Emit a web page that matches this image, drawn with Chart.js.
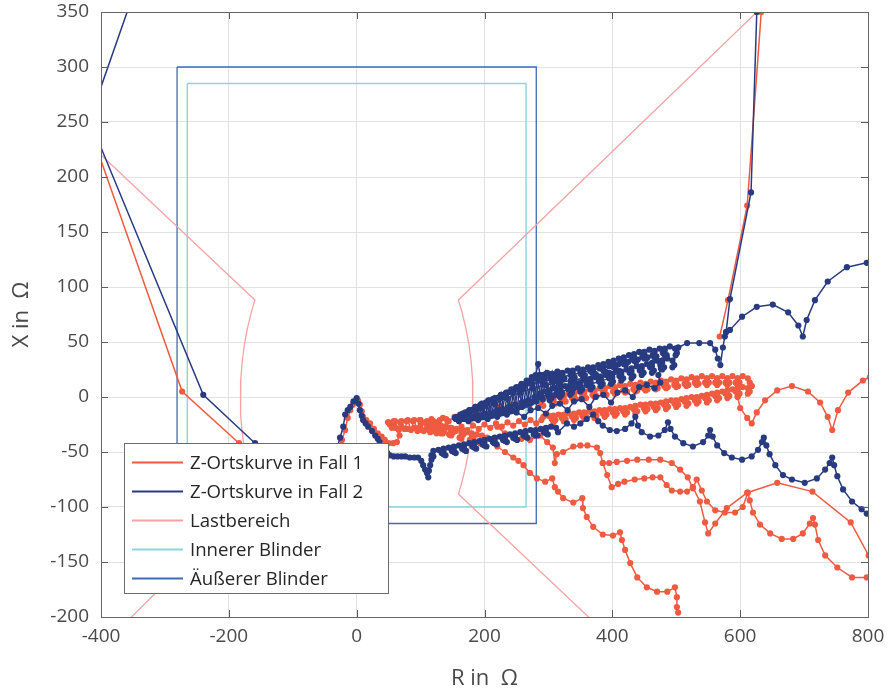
<!DOCTYPE html>
<html>
<head>
<meta charset="utf-8">
<title>Z-Ortskurven</title>
<script src="https://cdn.jsdelivr.net/npm/chart.js@4.4.1/dist/chart.umd.min.js"></script>
<style>
  html, body { margin: 0; padding: 0; background: #fff; }
  canvas { display: block; }
</style>
</head>
<body>
<canvas id="zChart" width="888" height="692"></canvas>
<script>
// axis ticks
const X_TICKS = [-400, -200, 0, 200, 400, 600, 800];
const Y_TICKS = [-200, -150, -100, -50, 0, 50, 100, 150, 200, 250, 300, 350];

// Z-Ortskurve in Fall 2 (blue), [R, X] in Ohm
const FALL2_SWING = [[-317,420],[-418,252],[-240,2],[-159,-42],[-100,-72],[-55,-68],[-35,-55],[-26,-37],[-21,-27],[-18,-16],[-14,-12],[-10,-9],[-5,-4],[0,-1],[3,-6],[5,-12],[8,-17],[10,-21],[14,-24],[18,-27],[24,-31],[29,-35],[33,-38],[36,-41],[40,-45],[44,-48],[48,-51],[52,-53],[58,-54],[64,-54],[70,-54],[76,-54],[83,-55],[90,-55],[96,-55],[101,-58],[104,-62],[107,-66],[110,-69],[112,-73],[113,-67],[115,-62],[117,-57],
  [120,-54],[117,-53],[120,-49],[128,-48],[136,-49],[139,-53],[136,-52],[133,-51],[136,-47],[144,-46],[152,-47],[155,-51],[152,-50],[149,-49],[152,-45],[160,-44],[168,-45],[171,-49],[168,-48],[165,-47],[168,-43],[176,-42],[184,-43],[187,-47],[184,-46],[181,-45],[184,-41],[192,-40],[200,-41],[203,-45],[200,-44],[197,-43],[200,-39],[208,-38],[216,-39],[219,-43],[216,-42],[213,-41],[216,-37],[224,-36],[232,-37],[235,-41],[232,-40],[229,-39],[232,-35],[240,-34],[248,-35],[251,-39],[248,-38],[245,-37],[248,-33],[256,-32],[264,-33],[267,-37],[264,-36],[261,-35],[264,-31],[272,-30],[280,-31],[283,-35],[280,-35],[277,-34],[280,-30],[288,-29],[296,-30],[299,-34],[296,-33],[293,-32],[296,-28],[304,-27],[312,-28],[315,-32],
  [329,-24],[340,-27],[350,-24],[360,-20],[370,-16],[378,-22],[385,-26],[396,-30],[407,-31],[420,-29],[430,-24],[436,-18],[440,-26],[446,-32],[459,-36],[472,-35],[482,-30],[487,-23],[491,-29],[498,-36],[511,-42],[526,-45],[542,-41],[550,-35],[553,-30],[557,-36],[564,-44],[575,-51],[587,-55],[603,-57],[618,-54],[628,-48],[634,-41],[637,-37],[641,-44],[646,-52],[655,-62],[667,-71],[681,-75],[701,-78],[720,-74],[733,-66],[740,-60],[744,-55],[747,-62],[752,-72],[761,-84],[775,-95],[790,-102],[798,-106],[818,-114]];
const FALL2_BAND_OUT = [[154,-19],[162,-16],[170,-14],[178,-12],[186,-9],[194,-7],[202,-5],[210,-3],[218,-1],[226,2],[234,4],[242,7],[250,9],[258,12],[266,15],[274,18],[280,20],[284,30],[287,20],
  [290,14],[287,16],[290,20],[298,22],[306,20],[309,16],[306,15],[303,17],[306,21],[314,23],[322,21],[325,17],[322,16],[319,18],[322,22],[330,24],[338,22],[341,18],[338,18],[335,20],[338,24],[346,26],[354,24],[357,20],[354,19],[351,21],[354,25],[362,27],[370,25],[373,21],[370,21],[367,23],[370,27],[378,29],[386,27],[389,23],[386,24],[383,26],[386,30],[394,32],[402,30],[405,26],[402,27],[399,29],[402,33],[410,35],[418,33],[421,29],[418,30],[415,32],[418,36],[426,38],[434,36],[437,32],[434,33],[431,35],[434,39],[442,41],[450,39],[453,35],[450,35],[447,37],[450,41],[458,43],[466,41],[469,37],[466,36],[463,38],[466,42],[474,44],[482,42],[485,38],[482,38],[479,40],[482,44],[490,46],[498,44],[501,40],
  [503,45],[517,49],[536,49],[553,49],[561,43],[565,35],[569,29],[573,45],[576,55],[578,59],[584,61],[603,73],[626,82],[651,84],[675,77],[691,65],[698,55],[704,70],[717,88],[737,105],[767,118],[798,122],[818,123]];
const FALL2_BAND_BACK = [[503,45],[499,38],
  [494,27],[497,29],[494,33],[486,35],[478,33],[475,29],[478,25],[481,27],[478,31],[470,33],[462,31],[459,27],[462,22],[465,24],[462,28],[454,30],[446,28],[443,24],[446,20],[449,22],[446,26],[438,28],[430,26],[427,22],[430,17],[433,19],[430,23],[422,25],[414,23],[411,19],[414,15],[417,17],[414,21],[406,23],[398,21],[395,17],[398,12],[401,14],[398,18],[390,20],[382,18],[379,14],[382,10],[385,12],[382,16],[374,18],[366,16],[363,12],[366,7],[369,9],[366,13],[358,15],[350,13],[347,9],[350,5],[353,7],[350,11],[342,13],[334,11],[331,7],[334,2],[337,4],[334,8],[326,10],[318,8],[315,4],[318,0],[321,2],[318,6],[310,8],[302,6],[299,2],[302,-3],[305,-1],[302,3],[294,5],[286,3],[283,-1],
  [274,-5],[266,-7],[258,-9],[250,-11],[242,-12],[234,-13],[226,-14],[218,-15],[210,-16],[202,-17],[194,-18],[186,-18],[178,-19],[170,-19],[162,-20],[155,-20]];
const FALL2_LOOP = [[156,-20],[170,-16],[185,-12],[200,-8],[215,-4],[230,0],[245,4],[260,8],[275,12],[290,14],[305,16],[320,18],[335,20],[350,22],[365,24],[380,26],[395,28],[410,30],[425,32],[440,34],[455,36],[468,36],[478,33],[476,26],[472,20],[475,13],[466,8],[454,11],[442,9],[432,0],[420,6],[408,4],[398,-5],[386,2],[374,0],[364,-9],[352,-2],[340,-4],[330,-12],[318,-6],[306,-8],[296,-15],[284,-10],[272,-12],[262,-18],[250,-14],[235,-16],[220,-18],[205,-20],[190,-21],[175,-22],[160,-22]];
const FALL2_WEDGE = [[156,-18],[161,-20],[166,-15],[171,-20],[176,-12],[181,-19],[186,-9],[191,-19],[196,-6],[201,-18],[206,-3],[211,-17],[216,-1],[221,-16],[226,2],[231,-14],[236,4],[241,-12],[246,7],[251,-10],[256,10],[261,-8],[266,13],[271,-6],[276,17],[281,-4],[286,20],[291,-2],[296,21],[301,0],[306,21],[311,2],[316,22],[321,4],
  [318,12],[313,20],[308,8],[303,18],[298,5],[293,17],[288,2],[283,16],[278,0],[273,14],[268,-3],[263,11],[258,-5],[253,8],[248,-7],[243,5],[238,-9],[233,3],[228,-11],[223,0],[218,-13],[213,-2],[208,-15],[203,-5],[198,-16],[193,-8],[188,-17],[183,-11],[178,-18],[173,-14],[168,-19],[163,-17],[158,-19]];
const FALL2_WEDGE_OUTER = [[154,-19],[175,-15],[195,-10],[215,-6],[235,-1],[255,4],[275,8],[295,11],[315,13],[335,15],[355,17],[375,20],[395,22],[410,24],[400,18],[380,14],[360,11],[340,8],[320,5],[300,2],[280,-1],[260,-5],[240,-9],[220,-12],[200,-15],[180,-18],[160,-20]];
const FALL2_STEEP = [[578,59],[584,89],[617,186],[626,350],[630,420]];

// Z-Ortskurve in Fall 1 (red)
const FALL1_APPROACH = [[-420,248],[-273,5],[-184,-42],[-110,-75],[-60,-74],[-35,-62],[-26,-48],[-23,-39],[-18,-30],[-14,-19],[-10,-12],[-6,-7],[-2,-4],[2,-3],[5,-7],[8,-13],[10,-18],[15,-21],[21,-24],[27,-29],[33,-33],[39,-36],[44,-39],[50,-42],[57,-42],[63,-41],[67,-35],[66,-30],[58,-27],[49,-23],[58,-22],[68,-23],[78,-22],[88,-22],[99,-21]];
const FALL1_TIP = [[50,-23],[55,-28],[60,-22],[65,-29],[70,-22],[75,-29],[80,-21],[85,-30],[90,-21],[95,-31],[100,-21],[105,-31],[110,-22],[115,-32],[120,-22],[125,-33],[130,-21],[135,-33],[140,-20],[145,-34]];
const FALL1_BAND_OUT = [[99,-21],[108,-24],[117,-20],[126,-23],[135,-19],[144,-22],[153,-18],[162,-20],[171,-16],[180,-18],[189,-14],[198,-16],[207,-11],[216,-14],[225,-9],[234,-12],[243,-7],[252,-10],[261,-5],[270,-8],[279,-3],[288,-6],
  [292,-8],[289,-6],[292,-2],[300,0],[308,-2],[311,-6],[308,-6],[305,-4],[308,0],[316,2],[324,0],[327,-4],[324,-4],[321,-2],[324,2],[332,4],[340,2],[343,-2],[340,-3],[337,-1],[340,3],[348,5],[356,3],[359,-1],[356,-1],[353,1],[356,5],[364,7],[372,5],[375,1],[372,0],[369,2],[372,6],[380,8],[388,6],[391,2],[388,2],[385,4],[388,8],[396,10],[404,8],[407,4],[404,3],[401,5],[404,9],[412,11],[420,9],[423,5],[420,4],[417,6],[420,10],[428,12],[436,10],[439,6],[436,5],[433,7],[436,11],[444,13],[452,11],[455,7],[452,6],[449,8],[452,12],[460,14],[468,12],[471,8],[468,7],[465,9],[468,13],[476,15],[484,13],[487,9],[484,8],[481,10],[484,14],[492,16],[500,14],[503,10],[500,9],[497,11],[500,15],[508,17],[516,15],[519,11],[516,10],[513,12],[516,16],[524,18],[532,16],[535,12],[532,11],[529,13],[532,17],[540,19],[548,17],[551,13],[548,11],[545,13],[548,17],[556,19],[564,17],[567,13],[564,11],[561,13],[564,17],[572,19],[580,17],[583,13],[580,11],[577,13],[580,17],[588,19],[596,17],[599,13],[596,11],[593,13],[596,17],[604,19],[612,17],[615,13],[618,10]];
const FALL1_BAND_BACK = [[618,10],
  [612,3],[615,5],[612,8],[604,9],[596,8],[593,5],[596,1],[599,3],[596,6],[588,7],[580,6],[577,3],[580,-1],[583,1],[580,4],[572,5],[564,4],[561,1],[564,-3],[567,-1],[564,2],[556,3],[548,2],[545,-1],[548,-5],[551,-3],[548,0],[540,1],[532,0],[529,-3],[532,-6],[535,-4],[532,-1],[524,0],[516,-1],[513,-4],[516,-8],[519,-6],[516,-3],[508,-2],[500,-3],[497,-6],[500,-9],[503,-7],[500,-4],[492,-3],[484,-4],[481,-7],[484,-11],[487,-9],[484,-6],[476,-5],[468,-6],[465,-9],[468,-12],[471,-10],[468,-7],[460,-6],[452,-7],[449,-10],[452,-13],[455,-11],[452,-8],[444,-7],[436,-8],[433,-11],[436,-15],[439,-13],[436,-10],[428,-9],[420,-10],[417,-13],[420,-16],[423,-14],[420,-11],[412,-10],[404,-11],[401,-14],[404,-17],[407,-15],[404,-12],[396,-11],[388,-12],[385,-15],[388,-18],[391,-16],[388,-13],[380,-12],[372,-13],[369,-16],[372,-19],[375,-17],[372,-14],[364,-13],[356,-14],[353,-17],[356,-20],[359,-18],[356,-15],[348,-14],[340,-15],[337,-18],[340,-21],[343,-19],[340,-16],[332,-15],[324,-16],[321,-19],[324,-22],[327,-20],[324,-17],[316,-16],[308,-17],[305,-20],[308,-23],[311,-21],[308,-18],[300,-17],[292,-18],[289,-21],
  [281,-24],[272,-21],[263,-25],[254,-22],[245,-26],[236,-23],[227,-27],[218,-24],[209,-28],[200,-25],[191,-29],[182,-26],[173,-30],[164,-27],[155,-31],[146,-28],[137,-31],[128,-29],[119,-31],[110,-29],[101,-30],[90,-28],[80,-29],[70,-27],[60,-28],[52,-25]];
const FALL1_DROP_A = [[100,-29],[97,-28],[100,-24],[108,-23],[116,-24],[119,-28],[116,-31],[113,-30],[116,-26],[124,-25],[132,-26],[135,-30],[132,-33],[129,-32],[132,-28],[140,-27],[148,-28],[151,-32],[148,-35],[145,-34],[148,-30],[156,-29],[164,-30],[167,-34],[164,-38],[161,-37],[164,-33],[172,-32],[180,-33],[183,-37],[180,-40],[177,-39],[180,-35],[188,-34],[196,-35],[199,-39],[196,-43],[193,-42],[196,-38],[204,-37],[212,-38],[215,-42],
  [220,-45],[232,-50],[245,-55],[253,-58],[261,-62],[271,-69],[282,-74],[295,-77],[306,-74],[310,-82],[315,-86],[323,-92],[339,-96],[353,-92],[354,-101],[360,-109],[370,-118],[385,-125],[401,-126],[412,-123],[415,-130],[420,-139],[428,-151],[439,-164],[454,-173],[470,-177],[486,-177],[498,-173],[501,-182],[501,-191],[503,-196]];
const FALL1_DROP_B = [[220,-27],[232,-33],[245,-37],[258,-38],[271,-39],[287,-35],[298,-41],[307,-46],[310,-60],[313,-52],[323,-50],[339,-45],[350,-44],[361,-44],[376,-46],[381,-51],[385,-60],[395,-60],[407,-59],[423,-58],[439,-57],[457,-57],[475,-57],[493,-60],[506,-66],[518,-73],[526,-83],[532,-75],[540,-85],[548,-95],[561,-103],[576,-105],[592,-105],[604,-100],[612,-87],[615,-94],[620,-105],[631,-116],[647,-124],[665,-129],[683,-129],[698,-124],[709,-115],[714,-110],[717,-116],[722,-130],[733,-144],[752,-155],[775,-164],[798,-164],[818,-164]];
const FALL1_DROP_D = [[385,-60],[392,-71],[399,-82],[409,-79],[419,-77],[435,-75],[450,-74],[463,-73],[475,-73],[485,-80],[493,-85],[506,-86],[517,-86],[526,-82],[537,-95],[545,-114],[550,-124],[561,-115],[579,-101],[611,-87],[658,-78],[713,-86],[773,-114],[801,-144],[815,-165]];
const FALL1_RIGHT = [[596,0],[600,-10],[611,-19],[618,-24],[626,-14],[639,-3],[658,6],[681,10],[706,5],[725,-5],[737,-18],[744,-30],[753,-12],[769,4],[792,15],[803,18],[820,25]];
const FALL1_STEEP = [[568,55],[581,88],[611,174],[633,350],[642,420]];

// Lastbereich (load area)
const LOAD_LEFT = [[-420,231],[-159.2,88.2],[-164.9,76.9],[-171,62.2],[-175.8,47.1],[-179.2,31.6],[-181.3,15.9],[-182,0],[-181.3,-15.9],[-179.2,-31.6],[-175.8,-47.1],[-171,-62.2],[-164.9,-76.9],[-159.2,-88.2],[-378,-215]];
const LOAD_RIGHT = [[751,420],[159.2,88.2],[164.9,76.9],[171,62.2],[175.8,47.1],[179.2,31.6],[181.3,15.9],[182,0],[181.3,-15.9],[179.2,-31.6],[175.8,-47.1],[171,-62.2],[164.9,-76.9],[159.2,-88.2],[390,-215]];

// Blinder
const INNER_BLINDER = [[-265,285],[265,285],[265,-100],[-265,-100],[-265,285]];
const OUTER_BLINDER = [[-281,300],[281,300],[281,-115],[-281,-115],[-281,300]];

const RED = '#ef5a41';
const NAVY = '#283b80';
const PINK = '#f5a3a3';
const CYAN = '#8bd5df';
const BLUE = '#3d6bb3';

const LEGEND_ITEMS = ['Z-Ortskurve in Fall 1', 'Z-Ortskurve in Fall 2', 'Lastbereich', 'Innerer Blinder', 'Äußerer Blinder'];
const LEGEND_COLORS = [RED, NAVY, PINK, CYAN, BLUE];

const pts = arr => arr.map(([x, y]) => ({ x: x, y: y }));

function curve(data, color) {
    return {
        data: pts(data),
        showLine: true,
        borderColor: color,
        backgroundColor: color,
        borderWidth: 1.5,
        pointRadius: 3.1,
        pointBorderWidth: 0,
        pointHoverRadius: 0,
        clip: 0
    };
}

function outline(data, color, width) {
    return {
        data: pts(data),
        showLine: true,
        borderColor: color,
        backgroundColor: color,
        borderWidth: width,
        pointRadius: 0,
        pointHoverRadius: 0,
        clip: 0
    };
}

// first dataset is drawn on top
const datasets = [
    curve(FALL2_SWING, NAVY),
    curve(FALL2_BAND_OUT, NAVY),
    curve(FALL2_BAND_BACK, NAVY),
    curve(FALL2_LOOP, NAVY),
    curve(FALL2_WEDGE, NAVY),
    curve(FALL2_WEDGE_OUTER, NAVY),
    curve(FALL2_STEEP, NAVY),
    curve(FALL1_APPROACH, RED),
    curve(FALL1_TIP, RED),
    curve(FALL1_BAND_OUT, RED),
    curve(FALL1_BAND_BACK, RED),
    curve(FALL1_DROP_A, RED),
    curve(FALL1_DROP_B, RED),
    curve(FALL1_DROP_D, RED),
    curve(FALL1_RIGHT, RED),
    curve(FALL1_STEEP, RED),
    outline(LOAD_LEFT, PINK, 1.3),
    outline(LOAD_RIGHT, PINK, 1.3),
    outline(INNER_BLINDER, CYAN, 1.4),
    outline(OUTER_BLINDER, BLUE, 1.3)
];

// box, inward ticks and the legend
const framePlugin = {
    id: 'frame',
    afterDatasetsDraw(chart) {
        const { ctx, chartArea: a, scales } = chart;
        ctx.save();
        ctx.strokeStyle = '#5c5c5c';
        ctx.lineWidth = 1;
        ctx.beginPath();
        X_TICKS.forEach(v => {
            const px = Math.round(scales.x.getPixelForValue(v)) + 0.5;
            ctx.moveTo(px, a.bottom); ctx.lineTo(px, a.bottom - 7);
            ctx.moveTo(px, a.top); ctx.lineTo(px, a.top + 7);
        });
        Y_TICKS.forEach(v => {
            const py = Math.round(scales.y.getPixelForValue(v)) + 0.5;
            ctx.moveTo(a.left, py); ctx.lineTo(a.left + 7, py);
            ctx.moveTo(a.right, py); ctx.lineTo(a.right - 7, py);
        });
        ctx.stroke();
        ctx.strokeStyle = '#666';
        ctx.strokeRect(Math.round(a.left) + 0.5, Math.round(a.top) + 0.5, Math.round(a.width), Math.round(a.height));
        ctx.restore();
    },
    afterDraw(chart) {
        const ctx = chart.ctx;
        ctx.save();
        ctx.fillStyle = '#fff';
        ctx.fillRect(124, 443, 265, 151);
        ctx.strokeStyle = '#6b6b6b';
        ctx.lineWidth = 1;
        ctx.strokeRect(124.5, 443.5, 264, 150);
        ctx.font = "18px 'Open Sans'";
        const w = ctx.measureText(LEGEND_ITEMS[0]).width;
        const size = (18 * 173 / w).toFixed(1);
        ctx.font = size + "px 'Open Sans'";
        ctx.textBaseline = 'middle';
        LEGEND_ITEMS.forEach((label, i) => {
            const yy = 462.5 + i * 29;
            ctx.strokeStyle = LEGEND_COLORS[i];
            ctx.lineWidth = 2;
            ctx.beginPath();
            ctx.moveTo(132, yy);
            ctx.lineTo(183, yy);
            ctx.stroke();
            ctx.fillStyle = '#262626';
            ctx.fillText(label, 190, yy + 1);
        });
        ctx.restore();
    }
};

Chart.defaults.font.family = "'Open Sans', 'Noto Sans', sans-serif";

const ctx = document.getElementById('zChart').getContext('2d');
const zChart = new Chart(ctx, {
    type: 'scatter',
    data: { datasets: datasets },
    options: {
        responsive: false,
        animation: false,
        devicePixelRatio: 1,
        layout: { padding: { left: 0, right: 20, top: 12, bottom: 0 } },
        plugins: {
            legend: { display: false },
            tooltip: { enabled: false }
        },
        events: [],
        scales: {
            x: {
                type: 'linear',
                min: -400,
                max: 800,
                afterBuildTicks: scale => { scale.ticks = X_TICKS.map(v => ({ value: v })); },
                afterFit: scale => {
                    scale.height = 75;
                    scale.paddingLeft = 0;
                    scale.paddingRight = 0;
                },
                ticks: {
                    autoSkip: false,
                    maxRotation: 0,
                    padding: 8,
                    color: '#4a4a4a',
                    font: { size: 19 },
                    callback: v => String(v)
                },
                grid: { color: '#e2e2e2', drawTicks: false, lineWidth: 1 },
                border: { display: false },
                title: {
                    display: true,
                    text: 'R in  Ω',
                    color: '#4a4a4a',
                    font: { size: 22 },
                    padding: { top: 0, bottom: 0 }
                }
            },
            y: {
                type: 'linear',
                min: -200,
                max: 350,
                afterBuildTicks: scale => { scale.ticks = Y_TICKS.map(v => ({ value: v })); },
                afterFit: scale => {
                    scale.width = 101;
                    scale.paddingTop = 0;
                    scale.paddingBottom = 0;
                },
                ticks: {
                    autoSkip: false,
                    padding: 12,
                    color: '#4a4a4a',
                    font: { size: 19 },
                    callback: v => String(v)
                },
                grid: { color: '#e2e2e2', drawTicks: false, lineWidth: 1 },
                border: { display: false },
                title: {
                    display: true,
                    text: 'X in  Ω',
                    color: '#4a4a4a',
                    font: { size: 22 },
                    padding: { top: 9, bottom: 0 }
                }
            }
        }
    },
    plugins: [framePlugin]
});
</script>
</body>
</html>
